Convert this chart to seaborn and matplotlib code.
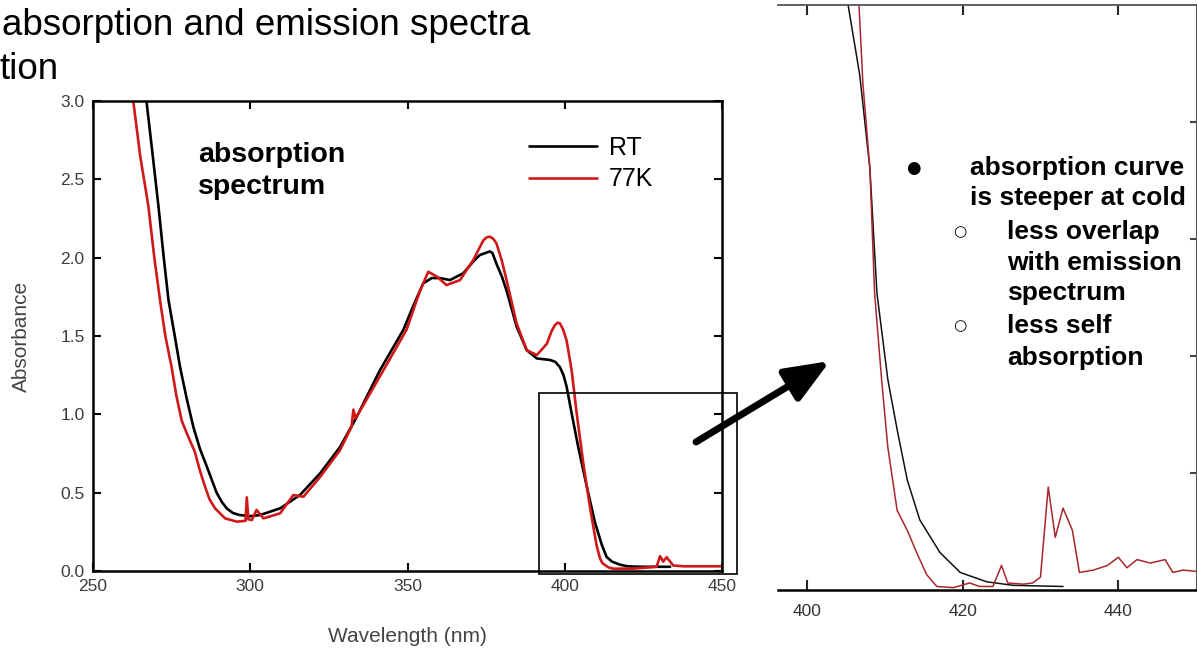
import numpy as np
import pandas as pd
import matplotlib
matplotlib.use("Agg")
import matplotlib.pyplot as plt
import seaborn as sns
from matplotlib.patches import Rectangle, FancyArrowPatch

# ------------------ DATA ------------------

# main absorption spectrum, room temperature
rt_wl = [266.6, 267.0, 269.0, 270.8, 272.5, 274.0, 276.0, 277.7, 279.8, 281.9, 284.0,
         286.2, 288.0, 289.3, 291.0, 292.5, 294.5, 296.7, 300.0, 303.1, 309.5, 315.8,
         322.2, 328.5, 333.5, 341.2, 348.7, 352.0, 355.0, 357.7, 360.3, 363.5, 367.7,
         370.9, 373.0, 376.2, 377.0, 378.3, 380.0, 381.5, 384.7, 387.9, 391.1, 395.3,
         397.0, 398.5, 399.6, 400.6, 402.2, 404.3, 407.0, 409.6, 411.8, 413.3, 415.0,
         417.6, 420.0, 423.9, 433.5]
rt_abs = [3.05, 3.00, 2.65, 2.33, 2.00, 1.73, 1.50, 1.30, 1.10, 0.92, 0.78,
          0.666, 0.57, 0.50, 0.44, 0.40, 0.37, 0.357, 0.350, 0.357, 0.40, 0.485,
          0.623, 0.79, 0.97, 1.28, 1.54, 1.70, 1.836, 1.87, 1.87, 1.857, 1.90,
          1.975, 2.017, 2.04, 2.03, 1.96, 1.88, 1.79, 1.56, 1.41, 1.357, 1.347,
          1.335, 1.30, 1.25, 1.176, 1.006, 0.79, 0.54, 0.31, 0.166, 0.09, 0.06,
          0.04, 0.03, 0.027, 0.027]

# main absorption spectrum, 77 K
k77_wl = [262.4, 262.8, 265.0, 267.6, 269.5, 271.3, 273.0, 275.0, 276.5, 278.2, 280.0,
          282.4, 284.0, 285.6, 287.0, 288.8, 292.0, 295.7, 298.5, 298.9, 299.4, 300.5,
          302.0, 304.2, 309.5, 313.7, 316.9, 322.2, 328.5, 332.2, 332.8, 333.5, 336.0,
          342.3, 349.7, 354.0, 356.6, 359.3, 362.4, 366.7, 370.9, 374.1, 375.2, 376.2,
          377.3, 378.3, 380.0, 381.5, 384.7, 387.9, 391.1, 394.3, 395.8, 396.9, 397.8,
          398.5, 399.5, 400.6, 402.2, 403.8, 405.9, 408.0, 410.1, 411.2, 412.0, 413.0,
          414.0, 415.4, 421.8, 429.2, 430.3, 431.3, 432.4, 434.5, 437.9, 450.0]
k77_abs = [3.05, 3.00, 2.65, 2.33, 2.00, 1.73, 1.50, 1.30, 1.12, 0.96, 0.87,
           0.76, 0.64, 0.54, 0.46, 0.40, 0.336, 0.315, 0.32, 0.47, 0.33, 0.325,
           0.39, 0.336, 0.368, 0.485, 0.474, 0.60, 0.77, 0.92, 1.03, 0.975, 1.06,
           1.28, 1.54, 1.79, 1.91, 1.88, 1.825, 1.857, 1.985, 2.11, 2.13, 2.134,
           2.12, 2.09, 1.98, 1.857, 1.58, 1.41, 1.378, 1.45, 1.53, 1.57, 1.585,
           1.58, 1.54, 1.47, 1.28, 1.006, 0.687, 0.41, 0.166, 0.08, 0.05, 0.035,
           0.022, 0.015, 0.015, 0.027, 0.095, 0.06, 0.088, 0.035, 0.03, 0.03]

# zoomed detail of the band edge
zoom_rt_wl = [405.0, 405.3, 406.8, 408.1, 409.0, 410.4, 411.6, 412.9, 414.5, 417.1,
              419.7, 423.1, 426.5, 432.9]
zoom_rt_abs = [0.53, 0.50, 0.44, 0.36, 0.254, 0.18, 0.137, 0.094, 0.06, 0.032,
               0.015, 0.007, 0.004, 0.003]
zoom_k77_wl = [406.6, 406.7, 407.2, 408.1, 408.7, 409.6, 410.4, 411.6, 412.9, 414.1,
               415.4, 416.7, 418.8, 420.9, 422.2, 423.9, 425.0, 425.8, 427.8, 429.0,
               430.0, 431.0, 431.9, 432.9, 434.1, 435.0, 436.8, 438.6, 440.0, 441.1,
               442.4, 444.1, 446.0, 447.0, 448.3, 449.9]
zoom_k77_abs = [0.53, 0.50, 0.433, 0.36, 0.254, 0.18, 0.122, 0.068, 0.051, 0.032,
                0.013, 0.003, 0.002, 0.006, 0.003, 0.003, 0.021, 0.006, 0.005, 0.006,
                0.011, 0.088, 0.045, 0.070, 0.051, 0.015, 0.017, 0.021, 0.028, 0.019,
                0.026, 0.023, 0.026, 0.015, 0.017, 0.016]

bullets = [
    ("\u25cf", "absorption curve", 0, 168),
    (None, "is steeper at cold", 0, 198),
    ("\u25cb", "less overlap", 1, 232),
    (None, "with emission", 1, 263),
    (None, "spectrum", 1, 293),
    ("\u25cb", "less self", 1, 326),
    (None, "absorption", 1, 358),
]

# ------------------ FIGURE ------------------

sns.set_theme(style="ticks")
plt.rcParams['font.family'] = ['Liberation Sans', 'DejaVu Sans']
plt.rcParams['text.color'] = 'black'

W, H = 1197, 649
fig = plt.figure(figsize=(W / 100, H / 100), dpi=100)


def px_box(l, t, r, b):
    return [l / W, 1 - b / H, (r - l) / W, (b - t) / H]


def px(x, y):
    return x / W, 1 - y / H


df = pd.concat([
    pd.DataFrame({"Wavelength": rt_wl, "Absorbance": rt_abs, "Sample": "RT"}),
    pd.DataFrame({"Wavelength": k77_wl, "Absorbance": k77_abs, "Sample": "77K"}),
], ignore_index=True)

df_zoom = pd.concat([
    pd.DataFrame({"Wavelength": zoom_rt_wl, "Absorbance": zoom_rt_abs, "Sample": "RT"}),
    pd.DataFrame({"Wavelength": zoom_k77_wl, "Absorbance": zoom_k77_abs, "Sample": "77K"}),
], ignore_index=True)

# main panel
ax = fig.add_axes(px_box(93, 101, 722, 571))
sns.lineplot(data=df, x="Wavelength", y="Absorbance", hue="Sample",
             palette={"RT": "black", "77K": "#d01818"}, linewidth=1.9,
             sort=False, estimator=None, ax=ax)
ax.set_xlim(250, 450)
ax.set_ylim(0, 3)
ax.set_xticks([250, 300, 350, 400, 450])
ax.set_yticks([0, 0.5, 1.0, 1.5, 2.0, 2.5, 3.0])
ax.set_yticklabels(["0.0", "0.5", "1.0", "1.5", "2.0", "2.5", "3.0"])
ax.tick_params(direction="in", top=True, right=True, length=6, width=1.5,
               labelsize=12.5, labelcolor="#3c3c3c", pad=6, color="black")
for s in ax.spines.values():
    s.set_linewidth(1.8)
    s.set_color("black")
ax.set_xlabel("Wavelength (nm)", fontsize=15, color="#444444")
ax.xaxis.set_label_coords(0.5, -(627 - 571) / 470)
ax.set_ylabel("Absorbance", fontsize=15, color="#444444")
ax.yaxis.set_label_coords((31 - 93) / 629, 0.5)

handles, labels = ax.get_legend_handles_labels()
ax.legend(handles, labels, loc="upper left", bbox_to_anchor=((524 - 93) / 629, (571 - 131) / 470),
          frameon=False, fontsize=18, handlelength=2.7, handletextpad=0.5,
          labelspacing=0.3, borderaxespad=0, borderpad=0.2)

fig.text(*px(198, 162), "absorption", fontsize=20.5, fontweight="bold", va="baseline")
fig.text(*px(198, 194), "spectrum", fontsize=20.5, fontweight="bold", va="baseline")

ax.add_patch(Rectangle((391.8, -0.02), 63.0, 1.156, fill=False, ec="black",
                       lw=1.2, clip_on=False, zorder=5))

# slide title fragment
fig.text(*px(2, 35), "absorption and emission spectra", fontsize=26.5, va="baseline")
fig.text(*px(0, 79), "tion", fontsize=26.5, va="baseline")

# arrow to the zoomed panel
fig.add_artist(FancyArrowPatch(
    px(696, 442), px(830, 361), transform=fig.transFigure,
    arrowstyle="-|>,head_length=27,head_width=11", mutation_scale=1,
    lw=5, color="black", shrinkA=0, shrinkB=0))

# zoomed panel
ax2 = fig.add_axes(px_box(778, 5, 1197, 590))
sns.lineplot(data=df_zoom, x="Wavelength", y="Absorbance", hue="Sample",
             palette={"RT": "#111111", "77K": "#a8262b"}, linewidth=1.1,
             sort=False, estimator=None, legend=False, ax=ax2)
ax2.set_xlim(396.3, 450.1)
ax2.set_ylim(0, 0.5)
ax2.set_xticks([400, 420, 440])
ax2.set_yticks([0.1, 0.2, 0.3, 0.4])
ax2.set_xlabel("")
ax2.set_ylabel("")
ax2.tick_params(axis="x", direction="in", top=True, bottom=True, length=7, width=1.5,
                labelsize=12.5, labelcolor="#333333", pad=10)
ax2.tick_params(axis="y", direction="in", left=False, right=True, labelleft=False,
                labelright=False, length=5, width=1.5, color="#444444")
ax2.spines["left"].set_visible(False)
ax2.spines["bottom"].set_linewidth(1.8)
ax2.spines["bottom"].set_color("black")
ax2.spines["top"].set_linewidth(1.3)
ax2.spines["top"].set_color("#555555")
ax2.spines["right"].set_linewidth(1.5)
ax2.spines["right"].set_color("#555555")

for mark, line, level, y in bullets:
    if mark:
        fig.text(*px(913 if level == 0 else 960, y), mark, fontsize=12 if level == 0 else 11,
                 ha="center", va="center", family=["DejaVu Sans"])
    fig.text(*px(970 if level == 0 else 1007, y), line, fontsize=19,
             fontweight="bold", va="center")

fig.savefig("out.png", dpi=100)
